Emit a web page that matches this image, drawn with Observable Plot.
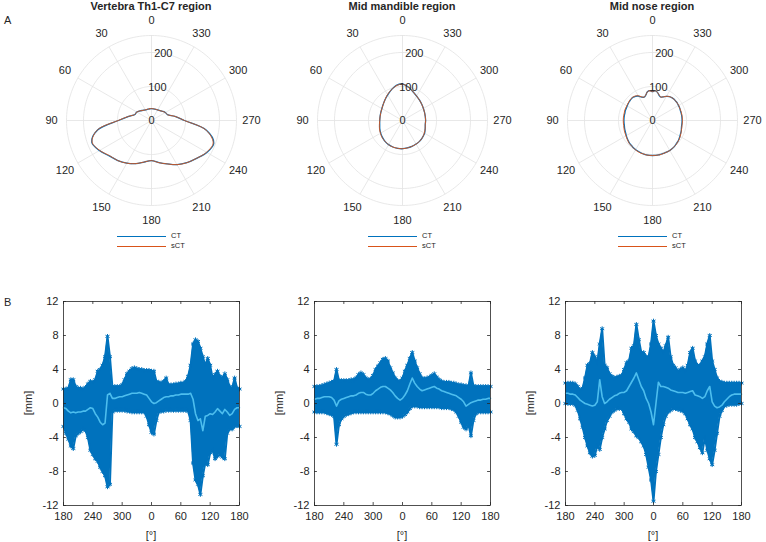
<!DOCTYPE html>
<html><head><meta charset="utf-8">
<script src="https://cdn.jsdelivr.net/npm/d3@7"></script>
<script src="https://cdn.jsdelivr.net/npm/@observablehq/plot@0.6"></script>
<style>
body{margin:0;background:#fff;}
#root{position:relative;width:766px;height:542px;overflow:hidden;font-family:"Liberation Sans",Arial,Helvetica,sans-serif;color:#262626;}
.abs{position:absolute;}
.title{font-weight:bold;font-size:11px;line-height:12px;white-space:nowrap;transform:translateX(-50%);}
.lab{font-size:11px;line-height:12px;white-space:nowrap;}
.leg{font-size:7.5px;line-height:8px;white-space:nowrap;}
.sw{position:absolute;height:0;}
svg{overflow:visible;}
</style></head>
<body><div id="root"></div>
<script>
// ---------- Panel A: polar contours ----------
const titles = ["Vertebra Th1-C7 region", "Mid mandible region", "Mid nose region"];
const thetaTicks = [0, 30, 60, 90, 120, 150, 180, 210, 240, 270, 300, 330];
const rTicks = [0, 100, 200];
const rMax = 250;
const legendLabels = ["CT", "sCT"];

const thetaV = [0,10,20,30,40,50,60,70,80,90,100,110,120,130,140,150,160,170,180,190,200,210,220,230,240,250,260,270,280,290,300,310,320,330,340,350];
const ctV  = [35,35,35,36,39,44,50,52,68,97, 161,187,177,162,154,145,135,124,118,126, 136,150,162,173,188,195,164,97,70,50, 47,42,38,36,35,35];
const sctV = [35,35,35,36,39,44,50,52,69,98, 162,186,176,161,154,145,135,124,118,126, 136,150,162,173,187,193,163,97,70,50, 47,42,38,36,35,35];

const thetaM = [0,10,20,30,40,50,60,70,80,90,100,110,120,130,140,150,160,170,180,190,200,210,220,230,240,250,260,270,280,290,300,310,320,330,340,350];
const ctM  = [108,105,96,87,80,74,70,68,67,67, 68,71,74,77,80,82,83,83,83,82, 81,80,79,77,75,71,68,68,68,69, 71,74,78,83,90,100];
const sctM = [107,104,96,88,80,74,70,68,67,67, 69,72,75,78,80,82,83,83,83,82, 81,80,79,77,74,71,68,68,68,69, 71,74,78,83,90,99];

const thetaN = [0,5,10,15,20,25,30,35,40,45,50,55,60,65,70,75,80,85,90,95,100,105,110,115,120,125,130,135,140,145,150,155,160,165,170,175,180,185,190,195,200,205,210,215,220,225,230,235,240,245,250,255,260,265,270,275,280,285,290,295,300,305,310,315,320,325,330,335,340,345,350,355];
const ctN  = [85,88,86,77,73,76,83,87,89,89, 88,87,86,85,85,84,84,84,84,84, 84,85,86,87,89,91,93,95,96,98, 99,100,101,102,103,103,103,103,103,102, 102,102,102,101,100,98,97,95,93,91, 90,88,87,87,87,87,87,87,87,88, 88,89,89,89,88,86,82,77,73,76, 84,88];
const sctN = [85,88,86,77,73,77,84,88,90,90, 89,88,87,87,87,86,86,86,86,86, 86,87,88,89,90,92,94,96,97,98, 100,101,102,102,103,103,103,103,103,103, 102,102,102,101,100,99,97,96,94,92, 90,89,88,88,88,88,88,88,88,88, 89,89,89,89,88,86,82,77,73,77, 84,88];

// ---------- Panel B: deviation bands ----------
const degs = d3.range(0, 361, 5);
const xTickPos = [0, 60, 120, 180, 240, 300, 360];
const xTickLabels = ["180", "240", "300", "0", "60", "120", "180"];
const yTicks = [-12, -8, -4, 0, 4, 8, 12];

const U1 = [1.7,1.7,1.8,2.8,2.8,2.0,1.8,1.8,1.7,1.9, 2.3,2.6,2.5,2.8,3.8,4.0,4.5,5.5,7.9,5.5, 2.0,2.0,2.0,2.0,2.2,2.8,3.5,3.8,4.1,4.2, 4.1,4.0,4.0,3.9,3.9,3.9,3.8,3.8,2.6,2.5, 2.4,2.6,3.0,2.2,2.2,2.2,2.3,2.3,2.4,2.4, 2.6,3.2,4.5,7.0,7.5,7.3,6.5,5.5,4.5,5.3, 4.5,3.0,3.4,3.8,3.2,3.0,3.5,2.8,2.0,1.8, 3.0,1.8,1.7];
const L1 = [-2.7,-3.5,-4.2,-5.0,-5.3,-3.8,-3.5,-3.3,-3.0,-3.2, -4.0,-5.5,-6.0,-6.5,-6.8,-7.5,-8.0,-8.5,-9.8,-9.5, -1.0,-0.8,-0.8,-0.8,-0.8,-0.8,-0.9,-0.9,-1.0,-1.0, -1.0,-1.0,-1.0,-1.0,-1.5,-2.5,-3.4,-3.6,-2.0,-1.0, -0.9,-0.9,-0.8,-0.8,-0.8,-0.8,-0.8,-0.8,-0.8,-0.8, -0.8,-0.9,-2.0,-7.0,-9.0,-9.5,-10.7,-8.5,-7.0,-7.2, -5.8,-5.5,-6.5,-6.2,-6.0,-6.3,-6.5,-3.5,-3.0,-3.0, -2.7,-2.6,-2.7];
const M1 = [-0.5,-0.6,-0.9,-1.1,-1.0,-1.1,-1.0,-1.0,-0.9,-0.9, -0.7,-0.5,-0.6,-1.2,-1.6,-2.2,-2.5,-2.3,1.0,1.2, 0.6,0.6,0.7,0.8,0.8,0.9,1.0,1.1,1.2,1.2, 1.2,1.3,1.2,1.1,1.0,0.6,0.2,0.0,0.1,0.3, 0.5,0.7,0.8,0.8,0.9,0.9,1.0,1.0,1.1,1.1, 1.1,1.1,1.2,0.5,-1.2,-2.0,-1.8,-3.2,-1.5,-1.4, -1.2,-1.3,-1.0,-0.6,-0.9,-1.2,-0.7,-1.0,-1.4,-1.2, -0.7,-0.5,-0.5];

const U2 = [2.0,2.0,2.0,2.1,2.2,2.3,2.4,2.5,2.6,4.0, 2.7,2.7,2.7,2.7,2.7,2.8,2.8,3.0,3.4,3.6, 3.4,3.0,2.8,2.9,3.3,4.0,4.4,4.8,5.2,5.3, 5.0,4.2,3.6,3.0,2.7,2.6,3.0,3.8,4.5,5.3, 6.0,5.0,4.2,3.5,3.0,2.9,3.0,3.1,3.3,3.5, 3.1,2.8,2.6,2.5,2.5,2.5,2.4,2.4,2.3,2.2, 2.2,2.1,2.1,2.0,3.6,2.1,2.0,2.0,2.0,2.0, 2.0,2.0,2.0];
const L2 = [-1.0,-1.0,-1.0,-1.0,-1.0,-1.1,-1.2,-1.3,-1.5,-4.8, -2.5,-1.8,-1.5,-1.3,-1.2,-1.1,-1.0,-1.0,-1.0,-1.0, -1.0,-1.0,-1.0,-1.0,-1.0,-1.0,-1.0,-1.0,-1.0,-1.0, -1.1,-1.2,-1.4,-1.6,-1.6,-1.6,-1.5,-1.3,-1.0,-0.6, -0.3,-0.3,-0.3,-0.4,-0.4,-0.4,-0.4,-0.4,-0.4,-0.4, -0.4,-0.4,-0.5,-0.5,-0.5,-0.5,-0.6,-0.7,-1.0,-1.5, -2.2,-2.8,-3.0,-2.5,-3.8,-2.0,-1.2,-1.0,-1.0,-1.0, -1.0,-1.0,-1.0];
const M2 = [0.5,0.6,0.6,0.7,0.8,0.8,0.8,0.7,0.4,-0.3, 0.3,0.5,0.6,0.7,0.8,0.9,0.9,1.0,1.2,1.3, 1.3,1.1,1.0,1.0,1.2,1.5,1.7,1.9,2.0,2.0, 1.8,1.6,1.3,0.9,0.6,0.4,0.6,1.0,1.5,2.3, 3.0,2.4,2.0,1.7,1.5,1.6,1.7,1.8,1.9,2.0, 1.8,1.7,1.5,1.4,1.3,1.2,1.1,1.0,0.9,0.7, 0.5,0.2,-0.3,-0.1,0.1,0.2,0.3,0.4,0.4,0.5, 0.5,0.6,0.6];

const U3 = [2.4,2.4,2.4,2.4,2.3,2.0,1.6,1.8,3.0,4.5, 4.7,6.0,5.5,4.8,7.0,8.8,4.5,4.2,3.5,3.2, 3.0,3.1,3.2,3.3,4.0,4.8,5.0,6.5,6.8,9.3, 7.5,6.0,6.0,5.5,5.5,7.0,9.7,8.0,7.0,6.5, 6.0,6.8,7.8,5.5,4.5,4.2,3.8,4.0,4.2,3.8, 4.5,6.0,6.5,5.0,4.5,4.5,5.0,5.5,7.0,8.0, 5.0,4.0,3.0,2.6,2.5,2.4,2.4,2.4,2.4,2.4, 2.4,2.4,2.4];
const L3 = [0.0,0.0,0.0,0.0,-0.2,-0.8,-1.8,-2.8,-4.0,-5.0, -5.8,-6.2,-6.1,-5.0,-5.4,-4.0,-3.0,-2.0,-1.5,-1.0, -0.8,-0.6,-0.6,-0.6,-1.2,-1.8,-2.2,-3.0,-3.3,-3.8, -4.0,-4.5,-5.0,-6.0,-7.5,-9.0,-11.5,-8.0,-6.0,-4.0, -2.5,-1.5,-1.0,-0.8,-0.6,-0.6,-0.7,-0.8,-0.9,-1.2, -1.8,-2.5,-3.0,-4.0,-4.5,-5.2,-5.8,-4.0,-5.5,-6.5, -7.2,-5.5,-3.5,-1.5,-0.8,-0.3,-0.2,-0.1,-0.1,-0.1, -0.1,0.0,0.0];
const M3 = [1.2,1.2,1.1,1.1,1.0,0.7,0.4,0.2,0.0,-0.1, -0.2,-0.3,-0.2,0.2,2.8,0.8,0.0,0.2,0.5,0.7, 0.9,1.0,1.2,1.3,1.3,1.5,2.0,2.5,3.0,3.6, 2.8,2.0,1.5,0.6,0.0,-1.0,-2.5,0.0,2.5,2.0, 2.0,1.9,1.8,1.6,1.5,1.4,1.3,1.3,1.3,1.2, 1.3,1.4,1.5,1.0,0.9,0.8,0.6,0.8,1.5,2.0, 0.2,-0.3,-0.5,-0.4,-0.2,0.2,0.5,0.8,1.0,1.1, 1.1,1.1,1.1];

// ---------- layout ----------
const root = document.getElementById("root");
const FONT = "Liberation Sans, Arial, Helvetica, sans-serif";
const INK = "#262626";
const CT_COL = "#0072BD", SCT_COL = "#D95319";
const BAND = "#0072BD", MEAN = "#4DBEEE";

function addDiv(cls, text, left, top, extra) {
  const d = document.createElement("div");
  d.className = "abs " + cls;
  d.textContent = text;
  d.style.left = left + "px"; d.style.top = top + "px";
  if (extra) Object.assign(d.style, extra);
  root.appendChild(d);
  return d;
}
function place(node, left, top) {
  node.style.position = "absolute";
  node.style.left = left + "px"; node.style.top = top + "px";
  root.appendChild(node);
}

const K = 0.34; // px per radial unit
const PW = 230, PH = 240;
const rad = t => t * Math.PI / 180;
const px = (t, r) => -r * Math.sin(rad(t));
const py = (t, r) => r * Math.cos(rad(t));

function polar(cx, theta, ct, sct) {
  const ctPts = theta.map((t, i) => ({t, r: ct[i]}));
  const sctPts = theta.map((t, i) => ({t, r: sct[i]}));
  const rings = [...rTicks.filter(r => r > 0), rMax].flatMap(r => d3.range(0, 361, 2).map(t => ({t, r})));
  return Plot.plot({
    width: PW, height: PH, margin: 0,
    style: {fontFamily: FONT, background: "transparent"},
    x: {domain: [-PW / 2 / K, PW / 2 / K], axis: null},
    y: {domain: [-PH / 2 / K, PH / 2 / K], axis: null},
    marks: [
      Plot.line(rings, {x: d => px(d.t, d.r), y: d => py(d.t, d.r), z: "r", stroke: "#e2e2e2", strokeWidth: 0.8}),
      Plot.link(thetaTicks, {x1: 0, y1: 0, x2: t => px(t, rMax), y2: t => py(t, rMax), stroke: "#e2e2e2", strokeWidth: 0.8}),
      Plot.line(ctPts, {x: d => px(d.t, d.r), y: d => py(d.t, d.r), stroke: CT_COL, strokeWidth: 1.3, curve: "catmull-rom-closed"}),
      Plot.line(sctPts, {x: d => px(d.t, d.r), y: d => py(d.t, d.r), stroke: SCT_COL, strokeWidth: 0.9, curve: "catmull-rom-closed"}),
      Plot.text(thetaTicks, {x: t => px(t, 294), y: t => py(t, 294), text: t => String(t), fontSize: 11, fill: INK}),
      Plot.text(rTicks, {x: r => px(350, r), y: r => py(350, r), text: r => String(r), fontSize: 11, fill: INK})
    ]
  });
}

const centers = [151, 402, 652];
const polarData = [[thetaV, ctV, sctV], [thetaM, ctM, sctM], [thetaN, ctN, sctN]];
centers.forEach((cx, i) => {
  place(polar(cx, ...polarData[i]), cx - PW / 2, 0);
  addDiv("title", titles[i], cx, 0);
  // legend
  [CT_COL, SCT_COL].forEach((c, j) => {
    const y = 236 + j * 10;
    const sw = document.createElement("div");
    sw.className = "sw";
    Object.assign(sw.style, {left: (cx - 34) + "px", top: y + "px", width: "49px", borderTop: "1px solid " + c});
    root.appendChild(sw);
    addDiv("leg", legendLabels[j], cx + 20, y - 4);
  });
});

addDiv("lab", "A", 4, 14);
addDiv("lab", "B", 4, 296);

// bottom panels
const frames = [63, 314, 565];
const series = [[U1, L1, M1], [U2, L2, M2], [U3, L3, M3]];
const ML = 40, MR = 12, MT = 16, MB = 37, BW = 228, BH = 257, BTOP = 285;

function panel(U, L, M) {
  const data = degs.map((d, i) => ({d, u: U[i], l: L[i], m: M[i]}));
  return Plot.plot({
    width: BW, height: BH, marginLeft: ML, marginRight: MR, marginTop: MT, marginBottom: MB,
    style: {fontFamily: FONT, fontSize: "11px", color: INK, background: "transparent"},
    x: {domain: [0, 360]},
    y: {domain: [-12, 12]},
    marks: [
      Plot.areaY(data, {x: "d", y1: "l", y2: "u", fill: BAND}),
      Plot.lineY(data, {x: "d", y: "u", stroke: BAND, strokeWidth: 2}),
      Plot.lineY(data, {x: "d", y: "l", stroke: BAND, strokeWidth: 2}),
      Plot.dot(data, {x: "d", y: "u", symbol: "asterisk", r: 2.2, stroke: BAND, strokeWidth: 1}),
      Plot.dot(data, {x: "d", y: "l", symbol: "asterisk", r: 2.2, stroke: BAND, strokeWidth: 1}),
      Plot.lineY(data, {x: "d", y: "m", stroke: MEAN, strokeWidth: 1.6}),
      Plot.ruleX(xTickPos, {x: d => d, y1: -12, y2: -11.65, stroke: INK, strokeWidth: 0.8}),
      Plot.ruleX(xTickPos, {x: d => d, y1: 11.65, y2: 12, stroke: INK, strokeWidth: 0.8}),
      Plot.ruleY(yTicks, {y: d => d, x1: 0, x2: 6, stroke: INK, strokeWidth: 0.8}),
      Plot.ruleY(yTicks, {y: d => d, x1: 354, x2: 360, stroke: INK, strokeWidth: 0.8}),
      Plot.frame({stroke: INK, strokeWidth: 0.8}),
      Plot.axisX({ticks: xTickPos, tickSize: 0, tickPadding: 7, tickFormat: d => xTickLabels[xTickPos.indexOf(d)], label: null, fontSize: 11, fill: INK}),
      Plot.axisY({ticks: yTicks, tickSize: 0, tickPadding: 5, tickFormat: d => String(d), label: null, fontSize: 11, fill: INK})
    ]
  });
}

frames.forEach((fx, i) => {
  place(panel(...series[i]), fx - ML, BTOP);
  addDiv("lab", "[°]", fx + 88, 529, {transform: "translateX(-50%)"});
  addDiv("lab", "[mm]", fx - 35, 403, {transform: "translate(-50%,-50%) rotate(-90deg)"});
});
</script>
</body></html>
